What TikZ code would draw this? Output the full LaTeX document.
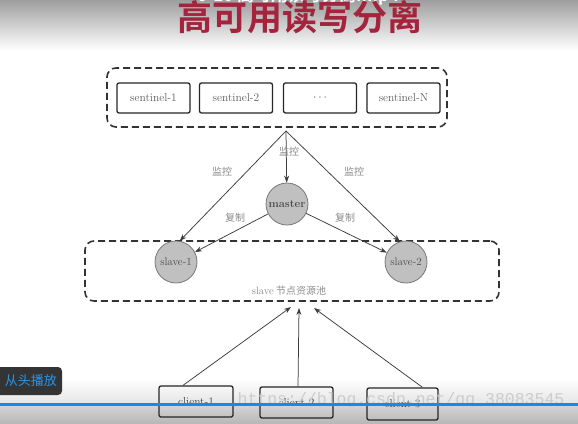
\documentclass[tikz,border=0pt]{standalone}
\usepackage{fontspec}
\newfontfamily\cjk{Noto Sans CJK SC}
\newfontfamily\cjkbold{Noto Sans CJK SC Bold}
\newfontfamily\wmfont{Liberation Mono}
\usetikzlibrary{arrows.meta,calc}
\definecolor{titlered}{RGB}{163,36,60}
\definecolor{lblgray}{RGB}{140,140,140}
\definecolor{txtgray}{RGB}{95,95,95}
\definecolor{circfill}{RGB}{192,192,192}
\definecolor{circline}{RGB}{120,120,120}
\definecolor{linegray}{RGB}{60,60,60}
\definecolor{progblue}{RGB}{22,138,232}
\definecolor{btnblue}{RGB}{40,150,235}
\definecolor{btndark}{RGB}{52,52,52}
\tikzset{
  sbox/.style={draw=black!85, line width=1.3pt, rounded corners=2pt,
    minimum width=73pt, minimum height=30pt, inner sep=0pt,
    font=\fontsize{11.5}{12}\selectfont, text=txtgray},
  dashbox/.style={draw=black!80, line width=1.6pt, dash pattern=on 7pt off 4pt,
    rounded corners=9pt, inner sep=0pt},
  circ/.style={circle, fill=circfill, draw=circline, line width=0.8pt,
    minimum size=42pt, inner sep=0pt, font=\fontsize{11}{12}\selectfont, text=txtgray!80!black},
  arr/.style={-{Stealth[length=7pt,width=5pt]}, line width=0.75pt, draw=linegray},
  lbl/.style={font=\cjk\fontsize{10}{11}\selectfont, text=lblgray, inner sep=0pt}
}
\begin{document}
\begin{tikzpicture}[x=1pt,y=-1pt]
\useasboundingbox (0,0) rectangle (578,423);
% background
\fill[white] (0,0) rectangle (578,423);
\shade[top color=black!38, bottom color=white] (0,0) rectangle (578,50);
\shade[top color=white, bottom color=black!10] (0,378) rectangle (578,404);
\shade[top color=black!16, bottom color=black!28] (0,404) rectangle (578,423);
% title
\node[font=\cjkbold\fontsize{17}{18}\selectfont, text=white, inner sep=0pt] (vid) at (298,-4) {6-10 高可用读写分离.mp4};
\node[font=\cjkbold\fontsize{35}{36}\selectfont, text=titlered, inner sep=0pt] (title) at (300,17) {高可用读写分离};
% sentinels
\node[dashbox, minimum width=340pt, minimum height=59pt] (sentpool) at (277,97.5) {};
\node[sbox] (sen1) at (153.5,98) {sentinel-1};
\node[sbox] (sen2) at (236,98) {sentinel-2};
\node[sbox] (sen3) at (320,98) {$\cdots$};
\node[sbox] (senN) at (403.5,98) {sentinel-N};
\coordinate (apex) at (286,131);
% slave pool
\node[dashbox, minimum width=414pt, minimum height=60pt] (slavepool) at (292,271) {};
\node[lbl] (poollbl) at (289,291) {{\rmfamily\fontsize{10.5}{11}\selectfont slave} 节点资源池};
% master and slaves
\node[circ, font=\bfseries\fontsize{11}{12}\selectfont] (master) at (287,204) {master};
\node[circ] (slave1) at (176,262) {slave-1};
\node[circ] (slave2) at (406,262) {slave-2};
% monitor arrows
\draw[arr] (apex) -- (master);
\draw[arr] (apex) -- (slave1.80);
\draw[arr] (apex) -- (slave2.107);
\node[lbl] (mon0) at (289,152) {监控};
\node[lbl] (mon1) at (222,172) {监控};
\node[lbl] (mon2) at (354,172) {监控};
% replication arrows
\draw[arr] (master) -- (slave1);
\draw[arr] (master) -- (slave2);
\node[lbl] (rep1) at (235,218) {复制};
\node[lbl] (rep2) at (345,218) {复制};
% clients
\node[sbox, minimum width=74pt, minimum height=31pt, text=txtgray!70!black] (cl1) at (196,401.5) {client-1};
\node[sbox, minimum width=73pt, minimum height=31pt, text=txtgray!70!black] (cl2) at (296.5,402.5) {client-2};
\node[sbox, minimum width=71pt, minimum height=32pt, text=txtgray!70!black] (cl3) at (402.5,404) {client-3};
\coordinate (tip1) at (291,307);
\coordinate (tip2) at (299,308);
\coordinate (tip3) at (314,308);
\draw[arr] ($(cl1.north)+(-13,0)$) -- (tip1);
\draw[arr] ($(cl2.north)+(1.5,0)$) -- (tip2);
\draw[arr] ($(cl3.north)+(20,0)$) -- (tip3);
% overlay
\node[font=\wmfont\fontsize{16.5}{17}\selectfont, text=black!20, inner sep=0pt] (wm) at (401,400) {https://blog.csdn.net/qq\_38083545};
\fill[progblue] (0,403) rectangle (578,406);
\node[fill=btndark, rounded corners=4pt, minimum width=70pt, minimum height=28pt, inner sep=0pt,
  font=\cjk\fontsize{13}{14}\selectfont, text=btnblue] (btn) at (27,381) {\hspace*{8pt}从头播放};
\end{tikzpicture}
\end{document}
